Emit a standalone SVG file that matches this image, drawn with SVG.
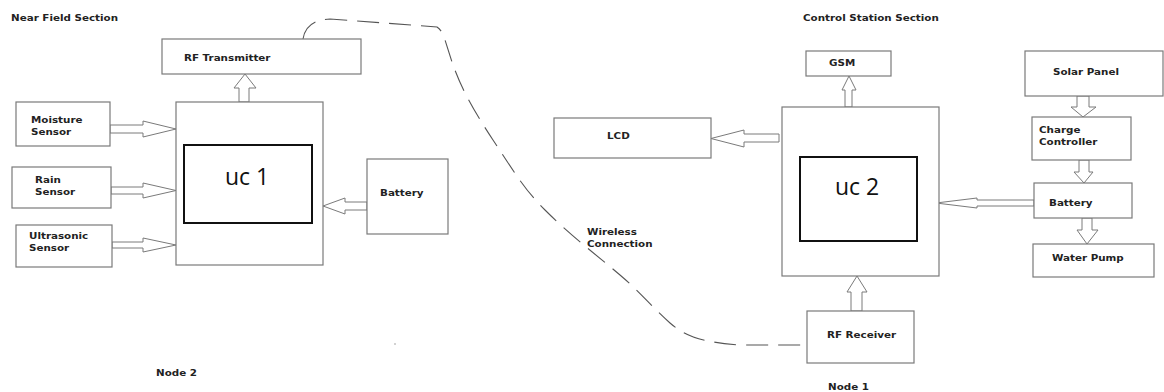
<svg xmlns="http://www.w3.org/2000/svg" width="1164" height="392" viewBox="0 0 1164 392">
<style>
.box{fill:#fff;stroke:#7a7a7a;stroke-width:1.2}
.uc{fill:#fff;stroke:#111;stroke-width:2}
.arr{fill:#fff;stroke:#7a7a7a;stroke-width:1}
.lbl{font-family:"DejaVu Sans","Liberation Sans",sans-serif;font-weight:bold;font-size:9px;fill:#222}
.big{font-family:"Open Sans","Liberation Sans",sans-serif;font-size:23px;fill:#111}
.wire{fill:none;stroke:#555;stroke-width:1.1;stroke-dasharray:22 10}
</style>
<rect width="1164" height="392" fill="#fff"/>
<text class="lbl" transform="translate(11,21) scale(1.15,1)">Near Field Section</text>
<text class="lbl" transform="translate(803,21) scale(1.15,1)">Control Station Section</text>
<text class="lbl" transform="translate(156,376) scale(1.15,1)">Node 2</text>
<text class="lbl" transform="translate(828,390) scale(1.15,1)">Node 1</text>
<circle cx="395" cy="344" r="0.8" fill="#999"/>

<g id="connectors">
<path class="wire" d="M303,39 Q306,20 330,19 L437,27 Q442,30 445,40 L452,62 C460,85 470,105 493,140 S525,190 545,210 C570,235 600,258 620,275 S650,305 670,323 C685,336 700,342 740,345 L812,345"/>
<polygon class="arr" points="110,125 143,125 143,121 176,129 143,137 143,133 110,133"/>
<polygon class="arr" points="111,187 143,187 143,183 176,190.5 143,198 143,194 111,194"/>
<polygon class="arr" points="112,242 143,242 143,238 176,245 143,252 143,248 112,248"/>
<polygon class="arr" points="367,202 345,202 345,198 323,206 345,214 345,210 367,210"/>
<polygon class="arr" points="239,102 239,88 234,88 245,74 256,88 249,88 249,102"/>
<polygon class="arr" points="845,107 845,90 842,90 849,76 856,90 852,90 852,107"/>
<polygon class="arr" points="779,134 744,134 744,130 711,138.5 744,147 744,142 779,142"/>
<polygon class="arr" points="1034,200 977,200 977,198 936,203 977,208 977,206 1034,206"/>
<polygon class="arr" points="1082,218 1092,218 1092,230 1098,230 1087,244 1077,230 1082,230"/>
<polygon class="arr" points="851,311 851,292 847,292 857,276 867,292 862,292 862,311"/>
<polygon class="arr" points="1077,96 1089,96 1089,107 1096,107 1083,117 1071,107 1077,107"/>
<polygon class="arr" points="1079,160 1089,160 1089,172 1093,172 1084,183 1074,172 1079,172"/>
</g>

<g id="rf-transmitter"><rect class="box" x="162" y="39" width="199" height="35"/><text class="lbl" transform="translate(184,61) scale(1.15,1)">RF Transmitter</text></g>
<g id="uc1"><rect class="box" x="176" y="102" width="147" height="163"/><rect class="uc" x="184" y="145" width="128" height="78"/><text class="big" x="225" y="185">uc 1</text></g>
<g id="moisture-sensor"><rect class="box" x="16" y="102" width="94" height="44"/><text class="lbl" transform="translate(31,123) scale(1.15,1)">Moisture</text><text class="lbl" transform="translate(31,135) scale(1.15,1)">Sensor</text></g>
<g id="rain-sensor"><rect class="box" x="12" y="167" width="99" height="41"/><text class="lbl" transform="translate(35,183) scale(1.15,1)">Rain</text><text class="lbl" transform="translate(35,195) scale(1.15,1)">Sensor</text></g>
<g id="ultrasonic-sensor"><rect class="box" x="16" y="225" width="96" height="42"/><text class="lbl" transform="translate(29,239) scale(1.15,1)">Ultrasonic</text><text class="lbl" transform="translate(29,251) scale(1.15,1)">Sensor</text></g>
<g id="battery-1"><rect class="box" x="367" y="159" width="81" height="75"/><text class="lbl" transform="translate(380,196) scale(1.15,1)">Battery</text></g>
<g id="wireless-label"><text class="lbl" transform="translate(587,235) scale(1.15,1)">Wireless</text><text class="lbl" transform="translate(587,247) scale(1.15,1)">Connection</text></g>
<g id="lcd"><rect class="box" x="554" y="118" width="157" height="40"/><text class="lbl" transform="translate(607,139) scale(1.15,1)">LCD</text></g>
<g id="gsm"><rect class="box" x="806" y="51" width="85" height="25"/><text class="lbl" transform="translate(829,66) scale(1.15,1)">GSM</text></g>
<g id="uc2"><rect class="box" x="782" y="107" width="157" height="169"/><rect class="uc" x="800" y="157" width="117" height="84"/><text class="big" x="835" y="195">uc 2</text></g>
<g id="rf-receiver"><rect class="box" x="807" y="311" width="107" height="52"/><text class="lbl" transform="translate(827,338) scale(1.15,1)">RF Receiver</text></g>
<g id="solar-panel"><rect class="box" x="1025" y="51" width="138" height="45"/><text class="lbl" transform="translate(1053,75) scale(1.15,1)">Solar Panel</text></g>
<g id="charge-controller"><rect class="box" x="1032" y="117" width="99" height="43"/><text class="lbl" transform="translate(1039,133) scale(1.15,1)">Charge</text><text class="lbl" transform="translate(1039,145) scale(1.15,1)">Controller</text></g>
<g id="battery-2"><rect class="box" x="1034" y="183" width="98" height="35"/><text class="lbl" transform="translate(1049,206) scale(1.15,1)">Battery</text></g>
<g id="water-pump"><rect class="box" x="1033" y="244" width="121" height="33"/><text class="lbl" transform="translate(1052,261) scale(1.15,1)">Water Pump</text></g>
</svg>
